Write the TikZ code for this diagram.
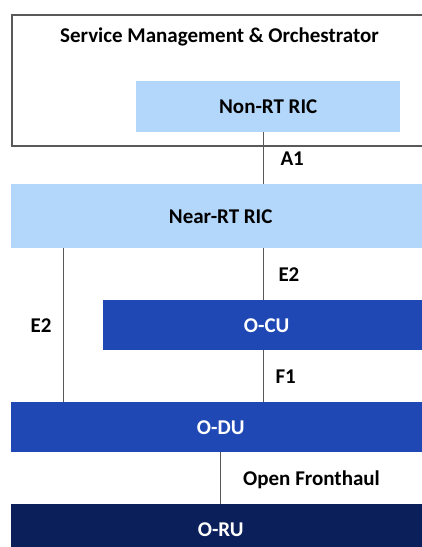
\documentclass[tikz,border=0pt]{standalone}
\usepackage{fontspec}
\setmainfont{Carlito}
\usepackage{xcolor}
\usepackage{tikz}
\usetikzlibrary{positioning}

\definecolor{ricblue}{RGB}{179,215,251}
\definecolor{unitblue}{RGB}{31,72,181}
\definecolor{runavy}{RGB}{11,31,91}
\definecolor{linegray}{RGB}{89,89,89}

\begin{document}
\begin{tikzpicture}[x=1pt, y=-1pt,
        every node/.style={font=\fontsize{21}{24}\selectfont\bfseries},
        blk/.style={inner sep=0pt, anchor=north west},
        ric/.style={blk, fill=ricblue, text=black},
        unit/.style={blk, fill=unitblue, text=white},
        link/.style={draw=linegray, line width=1pt},
        iface/.style={inner sep=0pt, text=black, text depth=0pt}]
        \useasboundingbox (0,0) rectangle (421,547);
        \coordinate (spine) at (263,0);
        \coordinate (side) at (63,0);

        \node[blk, draw=linegray, line width=2pt, minimum width=419pt, minimum height=131pt] (smo) at (11,14) {};
        \node (smotitle) at (219.5,37) {Service Management \& Orchestrator};
        \node[ric, minimum width=264pt, minimum height=51pt] (nonrt) at (136,81) {Non-RT RIC};
        \node[ric, minimum width=419pt, minimum height=64pt] (nearrt) at (11,184) {Near-RT RIC};
        \node[unit, minimum width=327pt, minimum height=50pt] (ocu) at (103,300) {O-CU};
        \node[unit, minimum width=419pt, minimum height=50pt] (odu) at (11,402) {O-DU};
        \node[blk, fill=runavy, text=white, minimum width=419pt, minimum height=50pt] (oru) at (11,504) {O-RU};

        \draw[link] (nonrt.south -| spine) -- node[iface, right=17pt] {A1} (nearrt.north -| spine);
        \draw[link] (nearrt.south -| spine) -- node[iface, right=15pt] {E2} (ocu.north -| spine);
        \draw[link] (nearrt.south -| side) -- node[iface, left=11pt] {E2} (odu.north -| side);
        \draw[link] (ocu.south -| spine) -- node[iface, right=12pt] {F1} (odu.north -| spine);
        \draw[link] (odu.south) -- node[iface, right=22pt] {Open Fronthaul} (oru.north);
    \end{tikzpicture}
\end{document}
